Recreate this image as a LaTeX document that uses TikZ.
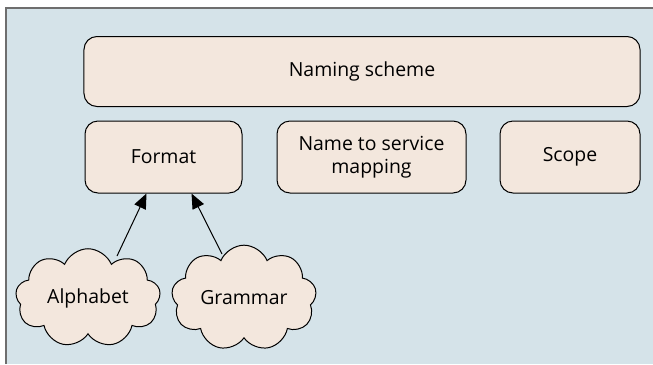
\documentclass[tikz,border=0pt]{standalone}
\usepackage{fontspec}
\setmainfont{Open Sans}
\usetikzlibrary{shapes.symbols,arrows.meta,calc}
\definecolor{panelbg}{HTML}{D5E3E9}
\definecolor{panelrule}{HTML}{6E6E6E}
\definecolor{boxfill}{HTML}{F3E7DD}
\tikzset{
  every node/.style={font=\fontsize{19.5}{22.5}\selectfont},
  roundbox/.style={draw=black, line width=1bp, fill=boxfill, rounded corners=13bp,
    align=center, inner sep=0pt},
  puffy/.style={cloud, draw=black, line width=1bp, fill=boxfill, cloud puffs=9,
    cloud puff arc=135, aspect=1.5, inner sep=0pt,
    minimum width=145bp, minimum height=97bp},
  linkarrow/.style={draw=black, line width=1bp, -{Triangle[length=15bp,width=12.5bp]}}
}
\begin{document}
\begin{tikzpicture}[x=1bp,y=-1bp]
  \useasboundingbox (0,0) rectangle (653,364);
  % panel with rules along its top and left edges
  \fill[panelbg] (5,7) rectangle (653,364);
  \draw[panelrule, line width=2bp] (6,364) -- (6,8) -- (653,8);

  % top level
  \node[roundbox, minimum width=556bp, minimum height=70bp] (scheme) at (362,71.5) {Naming scheme};

  % second level
  \node[roundbox, minimum width=157bp, minimum height=72bp] (fmt) at (163.5,157) {Format};
  \node[roundbox, minimum width=189bp, minimum height=72bp] (map) at (371.5,157) {Name to service\\mapping};
  \node[roundbox, minimum width=140bp, minimum height=72bp] (scope) at (570,157) {Scope};

  % ingredients of the format
  \node[puffy] (alpha) at (88,298) {Alphabet};
  \node[puffy] (gram) at (244,298) {Grammar};

  \coordinate (alphaTop) at ($(alpha.center)+(29,-42)$);
  \coordinate (gramTop) at ($(gram.center)+(-22,-44)$);
  \draw[linkarrow] (alphaTop) -- ($(fmt.south west)+(62,0)$);
  \draw[linkarrow] (gramTop) -- ($(fmt.south west)+(107,0)$);
\end{tikzpicture}
\end{document}
